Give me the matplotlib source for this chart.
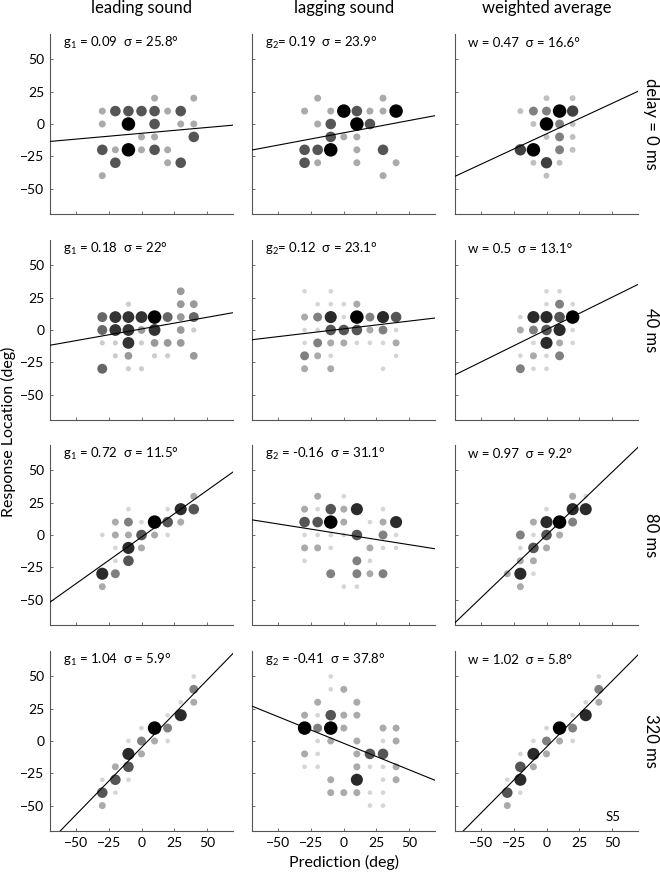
import matplotlib
matplotlib.use("Agg")
from matplotlib import pyplot as plt
import numpy as np

# ---- data: (prediction, response, count) per panel -------------------------
lead_0 = [(10, 20, 1), (40, 20, 1),
          (-30, 10, 1), (-20, 10, 2), (-10, 10, 2), (0, 10, 2), (10, 10, 2), (20, 10, 1), (30, 10, 2),
          (-30, 0, 1), (-10, 0, 3), (10, 0, 2), (30, 0, 1), (40, 0, 1),
          (0, -10, 1), (10, -10, 1), (40, -10, 2),
          (-30, -20, 2), (-20, -20, 1), (-10, -20, 3), (0, -20, 1), (10, -20, 2), (20, -20, 1),
          (-20, -30, 2), (20, -30, 1), (30, -30, 2),
          (-30, -40, 1)]
lag_0 = [(-20, 20, 1), (30, 20, 1),
         (-30, 10, 1), (-10, 10, 1), (0, 10, 3), (10, 10, 2), (20, 10, 1), (30, 10, 1), (40, 10, 3),
         (-20, 0, 1), (-10, 0, 2), (10, 0, 3), (20, 0, 2),
         (-10, -10, 2), (0, -10, 1), (10, -10, 1),
         (-30, -20, 2), (-20, -20, 2), (-10, -20, 3), (10, -20, 1), (30, -20, 2),
         (-30, -30, 2), (-20, -30, 1), (10, -30, 1), (40, -30, 1),
         (30, -40, 1)]
avg_0 = [(0, 20, 1), (20, 20, 1),
         (-20, 10, 1), (-10, 10, 2), (0, 10, 2), (10, 10, 4), (20, 10, 3),
         (-10, 0, 1), (0, 0, 4), (10, 0, 2), (20, 0, 1),
         (0, -10, 1), (10, -10, 2), (20, -10, 1),
         (-20, -20, 3), (-10, -20, 4), (10, -20, 2), (20, -20, 1),
         (-10, -30, 1), (0, -30, 3), (10, -30, 1),
         (0, -40, 1)]

lead_40 = [(30, 30, 2),
           (-10, 20, 1), (30, 20, 2), (40, 20, 2),
           (-30, 10, 3), (-20, 10, 4), (-10, 10, 4), (0, 10, 4), (10, 10, 5), (20, 10, 3), (30, 10, 2), (40, 10, 3),
           (-30, 0, 3), (-20, 0, 4), (-10, 0, 4), (0, 0, 2), (10, 0, 4), (30, 0, 2), (40, 0, 1),
           (-30, -10, 1), (-20, -10, 1), (-10, -10, 4), (0, -10, 1), (10, -10, 2), (20, -10, 2), (30, -10, 2),
           (-20, -20, 1), (-10, -20, 2), (10, -20, 1), (20, -20, 1), (40, -20, 2),
           (-30, -30, 3), (-10, -30, 1), (0, -30, 1)]
lag_40 = [(-30, 30, 1), (-10, 30, 1),
          (-20, 20, 1), (-10, 20, 1), (0, 20, 1), (10, 20, 2),
          (-30, 10, 2), (-20, 10, 3), (-10, 10, 5), (0, 10, 1), (10, 10, 6), (20, 10, 3), (30, 10, 5), (40, 10, 4),
          (-30, 0, 1), (-20, 0, 1), (-10, 0, 4), (0, 0, 4), (10, 0, 4), (20, 0, 2), (30, 0, 3), (40, 0, 1),
          (-30, -10, 1), (-20, -10, 3), (-10, -10, 2), (0, -10, 2), (10, -10, 1), (20, -10, 1), (30, -10, 1), (40, -10, 2),
          (-30, -20, 3), (-20, -20, 2), (-10, -20, 1), (40, -20, 1),
          (-30, -30, 2), (-10, -30, 2), (30, -30, 1)]
avg_40 = [(0, 30, 1), (10, 30, 1),
          (0, 20, 1), (10, 20, 3), (20, 20, 1),
          (-20, 10, 1), (-10, 10, 5), (0, 10, 5), (10, 10, 4), (20, 10, 6),
          (-20, 0, 2), (-10, 0, 3), (0, 0, 4), (10, 0, 5), (20, 0, 1),
          (-10, -10, 1), (0, -10, 5), (10, -10, 2), (20, -10, 1),
          (-20, -20, 1), (-10, -20, 2), (0, -20, 1), (10, -20, 3),
          (-20, -30, 3), (-10, -30, 1), (0, -30, 1)]

lead_80 = [(40, 30, 2),
           (-10, 20, 1), (20, 20, 1), (30, 20, 5), (40, 20, 4),
           (-20, 10, 2), (-10, 10, 3), (0, 10, 1), (10, 10, 6), (20, 10, 4), (30, 10, 2),
           (-30, 0, 1), (-20, 0, 2), (-10, 0, 2), (0, 0, 4), (10, 0, 2), (20, 0, 1),
           (-20, -10, 1), (-10, -10, 5), (0, -10, 2),
           (-20, -20, 1), (-10, -20, 4),
           (-30, -30, 5), (-20, -30, 3),
           (-30, -40, 2)]
lag_80 = [(-20, 30, 2), (0, 30, 1),
          (-30, 20, 2), (-20, 20, 1), (-10, 20, 4), (0, 20, 2), (10, 20, 5), (30, 20, 1),
          (-30, 10, 4), (-20, 10, 4), (-10, 10, 6), (0, 10, 2), (20, 10, 1), (30, 10, 2), (40, 10, 5),
          (-30, 0, 1), (-20, 0, 1), (-10, 0, 1), (0, 0, 1), (10, 0, 4), (30, 0, 3), (40, 0, 1),
          (-30, -10, 2), (-20, -10, 2), (-10, -10, 1), (20, -10, 2), (30, -10, 1), (40, -10, 1),
          (-30, -20, 1), (10, -20, 3), (20, -20, 1),
          (-10, -30, 3), (10, -30, 3), (20, -30, 2), (30, -30, 3),
          (0, -40, 1), (10, -40, 1)]
avg_80 = [(20, 30, 2), (30, 30, 1),
          (0, 20, 1), (20, 20, 5), (30, 20, 5),
          (-10, 10, 2), (0, 10, 5), (10, 10, 6), (20, 10, 3),
          (-20, 0, 3), (-10, 0, 1), (0, 0, 4), (10, 0, 2),
          (-20, -10, 1), (-10, -10, 4), (0, -10, 2),
          (-20, -20, 2), (-10, -20, 2),
          (-30, -30, 2), (-20, -30, 5), (-10, -30, 1),
          (-20, -40, 2)]

lead_320 = [(40, 50, 1), (40, 40, 3), (40, 30, 2), (30, 30, 1), (30, 20, 5), (20, 20, 1),
            (20, 10, 3), (10, 10, 6), (0, 10, 1), (10, 0, 2), (20, 0, 1), (0, 0, 3), (-10, 0, 1),
            (-10, -10, 5), (0, -10, 2), (-20, -20, 2), (-10, -20, 4),
            (-30, -30, 1), (-20, -30, 4), (-10, -30, 1),
            (-30, -40, 4), (-20, -40, 1), (-30, -50, 2)]
lag_320 = [(-10, 50, 1),
           (-10, 40, 1), (0, 40, 2),
           (-20, 30, 2), (10, 30, 2),
           (-30, 20, 2), (-20, 20, 1), (-10, 20, 4), (0, 20, 2), (10, 20, 2),
           (-30, 10, 6), (-20, 10, 3), (-10, 10, 6), (0, 10, 2), (30, 10, 2), (40, 10, 2),
           (-20, 0, 1), (-10, 0, 2), (10, 0, 2), (30, 0, 1), (40, 0, 2),
           (-30, -10, 2), (-20, -10, 1), (10, -10, 2), (20, -10, 4), (30, -10, 4),
           (-30, -20, 1), (-20, -20, 1), (10, -20, 2), (20, -20, 1), (30, -20, 1), (40, -20, 2),
           (-10, -30, 2), (10, -30, 5), (30, -30, 1), (40, -30, 2),
           (-10, -40, 2), (0, -40, 2), (10, -40, 2), (20, -40, 1), (30, -40, 1),
           (20, -50, 1), (30, -50, 1)]
avg_320 = [(40, 50, 1), (40, 40, 3), (40, 30, 2), (30, 30, 1), (30, 20, 5), (20, 20, 1),
           (20, 10, 3), (10, 10, 6), (0, 10, 1), (10, 0, 2), (20, 0, 1), (0, 0, 3), (-10, 0, 1),
           (-10, -10, 5), (0, -10, 2), (-20, -10, 1), (-20, -20, 4), (-10, -20, 2),
           (-20, -30, 5), (-30, -30, 1), (-20, -40, 1), (-30, -40, 4), (-30, -50, 2)]

panels = [[lead_0, lag_0, avg_0],
          [lead_40, lag_40, avg_40],
          [lead_80, lag_80, avg_80],
          [lead_320, lag_320, avg_320]]

# fitted gain / weight, intercept and sigma per panel
gains = [[0.09, 0.19, 0.47], [0.18, 0.12, 0.5], [0.72, -0.16, 0.97], [1.04, -0.41, 1.02]]
intercepts = [[-7.2, -6.8, -7.6], [0.8, 0.9, 0.3], [-1.6, 0.5, 0.0], [-5.0, -1.8, -4.7]]
sigmas = [[25.8, 23.9, 16.6], [22, 23.1, 13.1], [11.5, 31.1, 9.2], [5.9, 37.8, 5.8]]

col_titles = ['leading sound', 'lagging sound', 'weighted average']
row_titles = ['delay = 0 ms', '40 ms', '80 ms', '320 ms']
gain_names = [['$g_1$ = ', '$g_2$= ', 'w = '],
              ['$g_1$ = ', '$g_2$= ', 'w = '],
              ['$g_1$ = ', '$g_2$ = ', 'w = '],
              ['$g_1$ = ', '$g_2$ = ', 'w = ']]
ticks = [-50, -25, 0, 25, 50]

# ---- style --------------------------------------------------------------
plt.rcParams['font.family'] = ['Lato', 'DejaVu Sans']
plt.rcParams['mathtext.fontset'] = 'custom'
plt.rcParams['mathtext.rm'] = 'Lato'
plt.rcParams['mathtext.it'] = 'Lato'
plt.rcParams['mathtext.default'] = 'regular'

fig = plt.figure(figsize=(6.6, 8.75), dpi=100)

W, H = 660.0, 875.0
col_left = [50, 252.3, 455]
row_top = [33.6, 239.6, 444.6, 650.6]
ax_w, ax_h = 183, 180.8
max_d = 13.5  # px diameter of the most frequent response

for r in range(4):
    for c in range(3):
        ax = fig.add_axes([col_left[c] / W, 1 - (row_top[r] + ax_h) / H, ax_w / W, ax_h / H])
        pts = np.array(panels[r][c], dtype=float)
        n = pts[:, 2]
        frac = n / n.max()
        order = np.argsort(n)
        grey = 1 - frac
        cols = np.stack([grey, grey, grey], axis=1)
        sizes = (max_d * 0.72 * frac ** 0.6) ** 2
        ax.scatter(pts[order, 0], pts[order, 1], s=sizes[order], c=cols[order],
                   edgecolors='none', zorder=2)

        xx = np.array([-70, 70])
        ax.plot(xx, gains[r][c] * xx + intercepts[r][c], color='k', lw=0.8, zorder=3)

        ax.set_xlim(-70, 70)
        ax.set_ylim(-70, 70)
        ax.set_xticks(ticks)
        ax.set_yticks(ticks)
        for side in ['top', 'right']:
            ax.spines[side].set_visible(False)
        for side in ['left', 'bottom']:
            ax.spines[side].set_color('#555555')
            ax.spines[side].set_linewidth(0.8)
        ax.tick_params(direction='in', length=2.5, width=0.6, color='#555555',
                       labelsize=10, pad=4)
        if c > 0:
            ax.set_yticklabels([])
        if r < 3:
            ax.set_xticklabels([])

        ax.text(0.07, 0.948, gain_names[r][c] + f'{gains[r][c]:g}  σ = {sigmas[r][c]:g}°',
                transform=ax.transAxes, fontsize=9.5, va='center', ha='left')

        if r == 3 and c == 2:
            ax.text(0.82, 0.08, 'S5', transform=ax.transAxes, fontsize=9.5, va='center')

for c in range(3):
    fig.text((col_left[c] + ax_w / 2) / W, 1 - 8 / H, col_titles[c],
             ha='center', va='center', fontsize=12)
for r in range(4):
    fig.text(650.7 / W, 1 - (row_top[r] + ax_h / 2) / H, row_titles[r],
             ha='center', va='center', rotation=-90, fontsize=12)

fig.text(8 / W, 1 - 432 / H, 'Response Location (deg)', rotation=90,
         ha='center', va='center', fontsize=11.5)
fig.text(344 / W, 1 - 862 / H, 'Prediction (deg)', ha='center', va='center', fontsize=11.5)

fig.savefig('out.png', dpi=100)
